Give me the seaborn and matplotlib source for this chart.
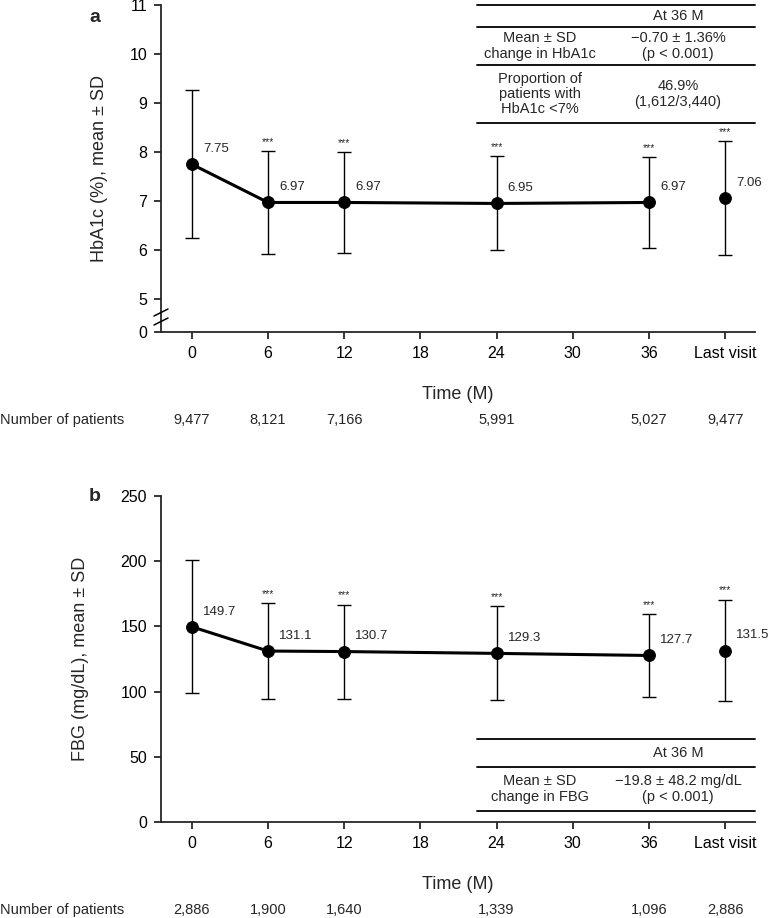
import numpy as np
import pandas as pd
import matplotlib
matplotlib.use("Agg")
import matplotlib.pyplot as plt
from matplotlib.lines import Line2D
import seaborn as sns

# ---------------- data ----------------
months = [0, 6, 12, 24, 36]
last_visit_pos = 42
x_ticks = [0, 6, 12, 18, 24, 30, 36, 42]
x_ticklabels = ["0", "6", "12", "18", "24", "30", "36", "Last visit"]

hba1c_mean = [7.75, 6.97, 6.97, 6.95, 6.97]
hba1c_sd = [1.51, 1.05, 1.03, 0.96, 0.92]
hba1c_last_mean = 7.06
hba1c_last_sd = 1.165
hba1c_labels = ["7.75", "6.97", "6.97", "6.95", "6.97"]
hba1c_last_label = "7.06"
hba1c_n = ["9,477", "8,121", "7,166", "5,991", "5,027"]
hba1c_last_n = "9,477"

fbg_mean = [149.7, 131.1, 130.7, 129.3, 127.7]
fbg_sd = [50.9, 37.0, 36.0, 36.1, 32.0]
fbg_last_mean = 131.5
fbg_last_sd = 39.0
fbg_labels = ["149.7", "131.1", "130.7", "129.3", "127.7"]
fbg_last_label = "131.5"
fbg_n = ["2,886", "1,900", "1,640", "1,339", "1,096"]
fbg_last_n = "2,886"

sig_a = ["", "***", "***", "***", "***"]
sig_b = ["", "***", "***", "***", "***"]

# ---------------- style ----------------
sns.set_theme(style="ticks")
plt.rcParams["font.family"] = ["Liberation Sans", "DejaVu Sans"]
plt.rcParams["axes.linewidth"] = 1.3
plt.rcParams["xtick.major.width"] = 1.1
plt.rcParams["ytick.major.width"] = 1.1
plt.rcParams["xtick.major.size"] = 5
plt.rcParams["ytick.major.size"] = 5

W, H = 768, 918
fig = plt.figure(figsize=(W / 100, H / 100), dpi=100)


def fx(x):
    return x / W


def fy(y):
    return 1 - y / H


def axes_from_px(left, top, right, bottom):
    return fig.add_axes([fx(left), fy(bottom), (right - left) / W, (bottom - top) / H])


def hline(x0, x1, y, lw=1.3):
    fig.add_artist(Line2D([fx(x0), fx(x1)], [fy(y), fy(y)], transform=fig.transFigure,
                          color="black", lw=lw))


xlim = (-2.43, 44.35)
TICK_FS = 11.5
LBL_FS = 13
VAL_FS = 9.5
N_FS = 10.5


def draw_panel(ax, means, sds, last_mean, last_sd, labels, last_label, sig):
    df = pd.DataFrame({"x": months, "y": means, "sd": sds})
    ax.errorbar(df["x"], df["y"], yerr=df["sd"], fmt="none", ecolor="black",
                elinewidth=1.0, capsize=5, capthick=1.0, zorder=2)
    ax.errorbar([last_visit_pos], [last_mean], yerr=[last_sd], fmt="none", ecolor="black",
                elinewidth=1.0, capsize=5, capthick=1.0, zorder=2)
    sns.lineplot(data=df, x="x", y="y", ax=ax, color="black", lw=2.2, marker="o",
                 markersize=8.5, markeredgecolor="black", markerfacecolor="black",
                 zorder=3, legend=False)
    sns.scatterplot(x=[last_visit_pos], y=[last_mean], ax=ax, color="black", s=72,
                    edgecolor="black", zorder=3, legend=False)
    all_x = months + [last_visit_pos]
    all_m = list(means) + [last_mean]
    all_sd = list(sds) + [last_sd]
    all_lab = list(labels) + [last_label]
    all_sig = list(sig) + ["***"]
    for xv, m, s, lab, sg in zip(all_x, all_m, all_sd, all_lab, all_sig):
        ax.annotate(lab, (xv, m), xytext=(8, 11), textcoords="offset points",
                    ha="left", va="center", fontsize=VAL_FS)
        if sg:
            ax.annotate(sg, (xv, m + s), xytext=(0, 3), textcoords="offset points",
                        ha="center", va="bottom", fontsize=7.5)
    ax.set_xlim(*xlim)
    ax.set_xticks(x_ticks)
    ax.set_xticklabels(x_ticklabels, fontsize=TICK_FS)
    ax.set_xlabel("Time (M)", fontsize=LBL_FS, labelpad=18)
    sns.despine(ax=ax)
    ax.tick_params(axis="both", labelsize=TICK_FS, pad=5, colors="black")


# ---------------- panel a ----------------
ax1 = axes_from_px(161, 5, 755, 332)
draw_panel(ax1, hba1c_mean, hba1c_sd, hba1c_last_mean, hba1c_last_sd,
           hba1c_labels, hba1c_last_label, sig_a)
y_zero_a = 5 - 33 / 49
ax1.set_ylim(y_zero_a, 11)
ax1.set_yticks([y_zero_a, 5, 6, 7, 8, 9, 10, 11])
ax1.set_yticklabels(["0", "5", "6", "7", "8", "9", "10", "11"])
ax1.set_ylabel("HbA1c (%), mean \u00b1 SD", fontsize=LBL_FS)
ax1.yaxis.set_label_coords((108 - 161) / 594, 0.5)
# axis break marks
for yy in (313, 322):
    fig.add_artist(Line2D([fx(154), fx(168)], [fy(yy + 3), fy(yy - 4)],
                          transform=fig.transFigure, color="black", lw=1.1))

fig.text(fx(95), fy(17), "a", fontsize=14, fontweight="bold", ha="center", va="center")

# table a
for yy in (5, 27, 65, 123):
    hline(477, 755, yy)
fig.text(fx(678), fy(16), "At 36 M", fontsize=10.5, ha="center", va="center")
fig.text(fx(540), fy(46), "Mean \u00b1 SD\nchange in HbA1c", fontsize=10.5,
         ha="center", va="center", linespacing=1.1)
fig.text(fx(678), fy(46), "\u22120.70 \u00b1 1.36%\n(p < 0.001)", fontsize=10.5,
         ha="center", va="center", linespacing=1.1)
fig.text(fx(540), fy(94), "Proportion of\npatients with\nHbA1c <7%", fontsize=10.5,
         ha="center", va="center", linespacing=1.1)
fig.text(fx(678), fy(94), "46.9%\n(1,612/3,440)", fontsize=10.5,
         ha="center", va="center", linespacing=1.1)

# number of patients a
fig.text(0.0, fy(420), "Number of patients", fontsize=N_FS, ha="left", va="center")
for xv, n in zip(months + [last_visit_pos], hba1c_n + [hba1c_last_n]):
    px = ax1.transData.transform((xv, 0))[0]
    fig.text(px / W, fy(420), n, fontsize=N_FS, ha="center", va="center")

# ---------------- panel b ----------------
ax2 = axes_from_px(161, 496, 755, 822)
draw_panel(ax2, fbg_mean, fbg_sd, fbg_last_mean, fbg_last_sd,
           fbg_labels, fbg_last_label, sig_b)
ax2.set_ylim(0, 250)
ax2.set_yticks([0, 50, 100, 150, 200, 250])
ax2.set_ylabel("FBG (mg/dL), mean \u00b1 SD", fontsize=LBL_FS)
ax2.yaxis.set_label_coords((89 - 161) / 594, 0.5)

fig.text(fx(95), fy(496), "b", fontsize=14, fontweight="bold", ha="center", va="center")

for yy in (739, 767, 811):
    hline(477, 755, yy)
fig.text(fx(678), fy(753), "At 36 M", fontsize=10.5, ha="center", va="center")
fig.text(fx(540), fy(789), "Mean \u00b1 SD\nchange in FBG", fontsize=10.5,
         ha="center", va="center", linespacing=1.1)
fig.text(fx(678), fy(789), "\u221219.8 \u00b1 48.2 mg/dL\n(p < 0.001)", fontsize=10.5,
         ha="center", va="center", linespacing=1.1)

fig.text(0.0, fy(910), "Number of patients", fontsize=N_FS, ha="left", va="center")
for xv, n in zip(months + [last_visit_pos], fbg_n + [fbg_last_n]):
    px = ax2.transData.transform((xv, 0))[0]
    fig.text(px / W, fy(910), n, fontsize=N_FS, ha="center", va="center")

fig.savefig("out.png", dpi=100)
